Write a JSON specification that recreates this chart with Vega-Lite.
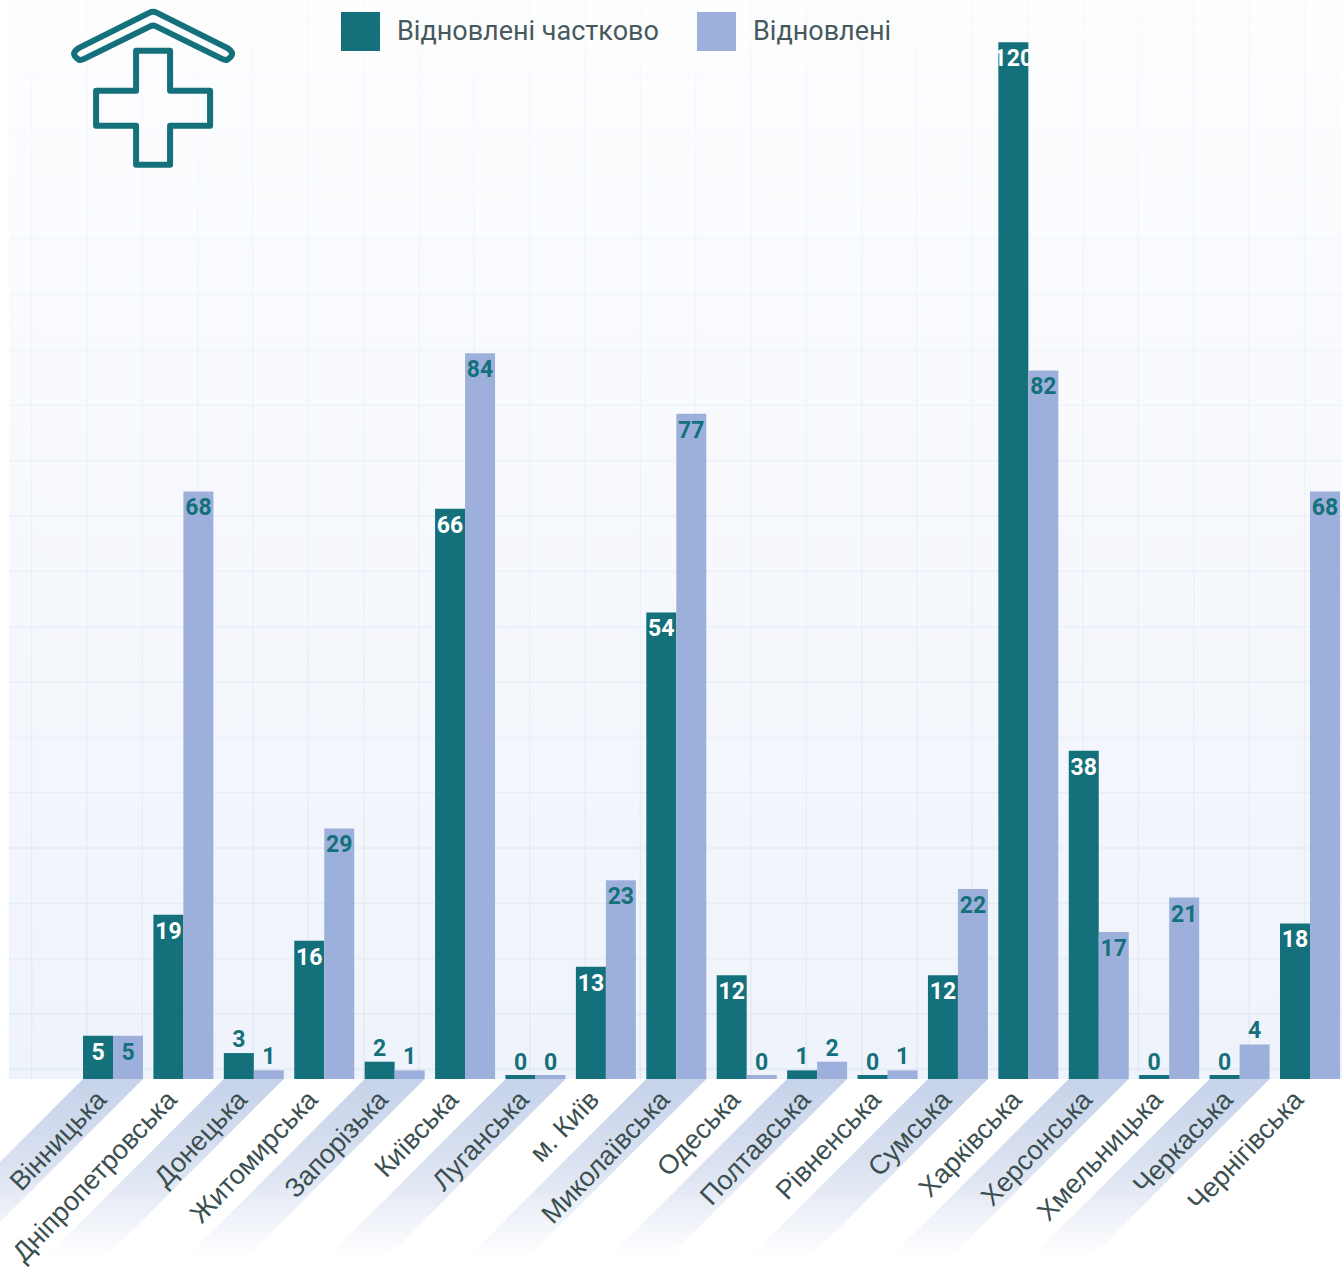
{
"$schema":"https://vega.github.io/schema/vega-lite/v6.json",
"width":1333,"height":1079,
"autosize":{"type":"none"},
"padding":{"left":9,"top":0,"right":0,"bottom":188},
"background":"#ffffff",
"view":{"stroke":null,"fill":"#eff3fb"},
"config":{"font":"Roboto"},
"datasets":{
"bars":[
{"region":"Вінницька","status":"Відновлені частково","count":5},{"region":"Вінницька","status":"Відновлені","count":5},
{"region":"Дніпропетровська","status":"Відновлені частково","count":19},{"region":"Дніпропетровська","status":"Відновлені","count":68},
{"region":"Донецька","status":"Відновлені частково","count":3},{"region":"Донецька","status":"Відновлені","count":1},
{"region":"Житомирська","status":"Відновлені частково","count":16},{"region":"Житомирська","status":"Відновлені","count":29},
{"region":"Запорізька","status":"Відновлені частково","count":2},{"region":"Запорізька","status":"Відновлені","count":1},
{"region":"Київська","status":"Відновлені частково","count":66},{"region":"Київська","status":"Відновлені","count":84},
{"region":"Луганська","status":"Відновлені частково","count":0},{"region":"Луганська","status":"Відновлені","count":0},
{"region":"м. Київ","status":"Відновлені частково","count":13},{"region":"м. Київ","status":"Відновлені","count":23},
{"region":"Миколаївська","status":"Відновлені частково","count":54},{"region":"Миколаївська","status":"Відновлені","count":77},
{"region":"Одеська","status":"Відновлені частково","count":12},{"region":"Одеська","status":"Відновлені","count":0},
{"region":"Полтавська","status":"Відновлені частково","count":1},{"region":"Полтавська","status":"Відновлені","count":2},
{"region":"Рівненська","status":"Відновлені частково","count":0},{"region":"Рівненська","status":"Відновлені","count":1},
{"region":"Сумська","status":"Відновлені частково","count":12},{"region":"Сумська","status":"Відновлені","count":22},
{"region":"Харківська","status":"Відновлені частково","count":120},{"region":"Харківська","status":"Відновлені","count":82},
{"region":"Херсонська","status":"Відновлені частково","count":38},{"region":"Херсонська","status":"Відновлені","count":17},
{"region":"Хмельницька","status":"Відновлені частково","count":0},{"region":"Хмельницька","status":"Відновлені","count":21},
{"region":"Черкаська","status":"Відновлені частково","count":0},{"region":"Черкаська","status":"Відновлені","count":4},
{"region":"Чернігівська","status":"Відновлені частково","count":18},{"region":"Чернігівська","status":"Відновлені","count":68}
],
"gridX":[{"g":0.41},{"g":1.41},{"g":2.41},{"g":3.41},{"g":4.41},{"g":5.41},{"g":6.41},{"g":7.41},{"g":8.41},{"g":9.41},{"g":10.41},{"g":11.41},{"g":12.41},{"g":13.41},{"g":14.41},{"g":15.41},{"g":16.41},{"g":17.41},{"g":18.41},{"g":19.41},{"g":20.41},{"g":21.41},{"g":22.41},{"g":23.41}],
"gridY":[{"g":1.12},{"g":7.52},{"g":13.93},{"g":20.33},{"g":26.74},{"g":33.14},{"g":39.54},{"g":45.95},{"g":52.35},{"g":58.76},{"g":65.16},{"g":71.56},{"g":77.97},{"g":84.37},{"g":90.78},{"g":97.18},{"g":103.58},{"g":109.99},{"g":116.39},{"g":122.8}],
"logo":[{"g":2.604,"v":112.4}]
},
"layer":[
{
"layer":[
{"data":{"name":"gridX"},"mark":{"type":"rule","color":"#e4ebf5","strokeWidth":1.4},
 "encoding":{"x":{"field":"g","type":"quantitative","axis":null,"scale":{"domain":[0,24.09],"nice":false,"zero":false}}}},
{"data":{"name":"gridY"},"mark":{"type":"rule","color":"#e4ebf5","strokeWidth":1.4},
 "encoding":{"y":{"field":"g","type":"quantitative","axis":null,"scale":{"domain":[0,124.88],"nice":false}}}},
{"data":{"name":"logo"},"mark":{"type":"rect","fill":{"gradient":"linear","x1":0,"y1":0,"x2":0,"y2":1,"stops":[{"offset":0,"color":"rgba(255,255,255,0.9)"},{"offset":1,"color":"rgba(255,255,255,0)"}]}},
 "encoding":{"x":{"datum":0,"type":"quantitative","axis":null,"scale":{"domain":[0,24.09],"nice":false,"zero":false}},"x2":{"datum":24.09},
 "y":{"datum":0,"type":"quantitative","axis":null,"scale":{"domain":[0,124.88],"nice":false}},"y2":{"datum":124.88}}},
{"data":{"name":"gridX"},"mark":{"type":"rule","color":"rgba(190,205,230,0.06)","strokeWidth":1.4},
 "encoding":{"x":{"field":"g","type":"quantitative","axis":null,"scale":{"domain":[0,24.09],"nice":false,"zero":false}}}},
{"data":{"name":"gridY"},"mark":{"type":"rule","color":"rgba(190,205,230,0.06)","strokeWidth":1.4},
 "encoding":{"y":{"field":"g","type":"quantitative","axis":null,"scale":{"domain":[0,124.88],"nice":false}}}},
{"data":{"name":"logo"},"mark":{"type":"point","filled":false,"size":4,"opacity":1,"stroke":"#14707a","strokeWidth":6,"strokeJoin":"round",
 "shape":"M-17 -57 H17 V-17 H57 V18 H17 V57 H-17 V18 H-57 V-17 H-17 Z M-4 -95 Q0 -97 4 -95 L74 -60 Q84 -54 74 -48 Q72 -47.5 69 -49 L3 -81.5 Q0 -83 -3 -81.5 L-69 -49 Q-72 -47.5 -74 -48 Q-84 -54 -74 -60 Z"},
 "encoding":{"x":{"field":"g","type":"quantitative","axis":null,"scale":{"domain":[0,24.09],"nice":false,"zero":false}},
 "y":{"field":"v","type":"quantitative","axis":null,"scale":{"domain":[0,124.88],"nice":false}}}}
]
},
{
"data":{"name":"bars"},
"encoding":{
 "x":{"field":"region","type":"nominal","sort":null,
  "scale":{"domain":["Вінницька","Дніпропетровська","Донецька","Житомирська","Запорізька","Київська","Луганська","м. Київ","Миколаївська","Одеська","Полтавська","Рівненська","Сумська","Харківська","Херсонська","Хмельницька","Черкаська","Чернігівська"],"range":[68.8,1336.2],"paddingInner":0,"paddingOuter":0},
  "axis":{"title":null,"zindex":1,"domain":false,"ticks":false,"grid":false,"labelAngle":-46.5,"labelAlign":"right","labelBaseline":"middle","labelFont":"Liberation Sans","labelFontSize":27,"labelColor":"#3c4f50","labelPadding":16,"labelOffset":-11,"labelOverlap":false,"labelLimit":0}},
 "xOffset":{"field":"status","type":"nominal","sort":["Відновлені частково","Відновлені"],"scale":{"domain":["Відновлені частково","Відновлені"],"paddingInner":0,"paddingOuter":0.1737}},
 "y":{"field":"count","type":"quantitative","axis":null,"scale":{"domain":[0,124.88],"nice":false}}
},
"layer":[
{"transform":[{"filter":{"and":[{"field":"status","equal":"Відновлені"},{"field":"region","oneOf":["Вінницька","Донецька","Запорізька","Луганська","Миколаївська","Полтавська","Сумська","Херсонська","Черкаська"]}]}}],
 "mark":{"type":"point","filled":true,"size":4,"opacity":1,"stroke":null,
 "shape":"M-30 0 L30 0 L-158 188 L-218 188 Z",
 "fill":{"gradient":"linear","x1":0,"y1":0,"x2":0,"y2":1,"stops":[{"offset":0,"color":"#c5d2e9"},{"offset":0.5,"color":"#dde4f2"},{"offset":0.95,"color":"#ffffff"},{"offset":1,"color":"#ffffff"}]}},
 "encoding":{"xOffset":null,"y":{"datum":0,"type":"quantitative"}}},
{"mark":{"type":"bar"},
 "encoding":{"color":{"field":"status","type":"nominal","scale":{"domain":["Відновлені частково","Відновлені"],"range":["#14707a","#9db0db"]},
  "legend":{"title":null,"orient":"none","legendX":332,"legendY":12,"direction":"horizontal","columns":2,"symbolType":"square","symbolSize":1521,"symbolStrokeWidth":0,"symbolOpacity":1,"labelFont":"Roboto","labelFontSize":27,"labelColor":"#47595c","labelOffset":17,"columnPadding":38,"labelLimit":0}}}},
{"transform":[{"filter":{"field":"count","equal":0}}],
 "mark":{"type":"bar"},
 "encoding":{"y":{"datum":0.463,"type":"quantitative"},"y2":{"datum":0},"color":{"field":"status","type":"nominal"}}},
{"transform":[{"filter":"datum.count>=5"}],
 "mark":{"type":"text","font":"Roboto","fontWeight":"bold","fontSize":23,"baseline":"middle","dy":17},
 "encoding":{"text":{"field":"count","type":"quantitative"},
 "color":{"condition":{"test":"datum.status==='Відновлені'","value":"#14707a"},"value":"#ffffff"}}},
{"transform":[{"filter":"datum.count>0 && datum.count<5"}],
 "mark":{"type":"text","font":"Roboto","fontWeight":"bold","fontSize":23,"baseline":"middle","dy":-13,"color":"#14707a"},
 "encoding":{"text":{"field":"count","type":"quantitative"}}},
{"transform":[{"filter":{"field":"count","equal":0}}],
 "mark":{"type":"text","font":"Roboto","fontWeight":"bold","fontSize":23,"baseline":"middle","dy":-16,"color":"#14707a"},
 "encoding":{"text":{"field":"count","type":"quantitative"}}}
]
}
],
"resolve":{"scale":{"x":"independent"}}
}
